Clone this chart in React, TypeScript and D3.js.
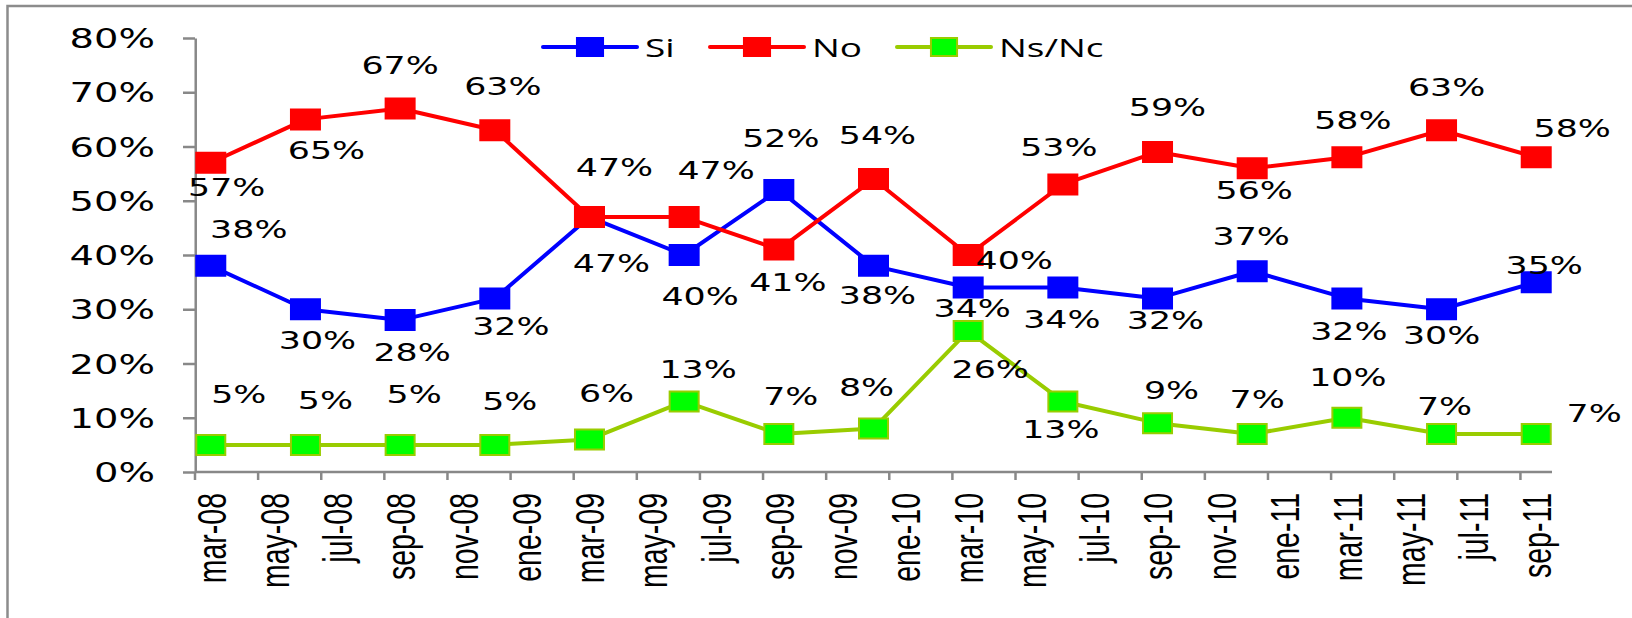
import React, { useEffect, useRef } from "react";
import * as d3 from "d3";

// quarterly survey dates and the three answer series (percent)
const surveyDates = [
  "2008-03", "2008-06", "2008-09", "2008-12",
  "2009-03", "2009-06", "2009-09", "2009-12",
  "2010-03", "2010-06", "2010-09", "2010-12",
  "2011-03", "2011-06", "2011-09",
];
const siValues = [38, 30, 28, 32, 47, 40, 52, 38, 34, 34, 32, 37, 32, 30, 35];
const noValues = [57, 65, 67, 63, 47, 47, 41, 54, 40, 53, 59, 56, 58, 63, 58];
const nsncValues = [5, 5, 5, 5, 6, 13, 7, 8, 26, 13, 9, 7, 10, 7, 7];

// axis labels, one every two months
const monthTickLabels = [
  "mar-08", "may-08", "jul-08", "sep-08", "nov-08", "ene-09",
  "mar-09", "may-09", "jul-09", "sep-09", "nov-09", "ene-10",
  "mar-10", "may-10", "jul-10", "sep-10", "nov-10", "ene-11",
  "mar-11", "may-11", "jul-11", "sep-11",
];
const yTickValues = [0, 10, 20, 30, 40, 50, 60, 70, 80];

// hand placed data labels (screen px from the marker)
const siLabelOffsets = [
  [38, -36], [12, 31], [12, 32], [16, 28], [22, 46], [16, 41], [2, -52], [4, 30],
  [4, 21], [-1, 32], [8, 22], [-1, -35], [2, 33], [0, 26], [8, -17],
];
const noLabelOffsets = [
  [16, 25], [21, 31], [0, -43], [8, -44], [25, -50], [32, -47], [9, 33], [4, -44],
  [46, 5], [-4, -37], [10, -45], [2, 22], [6, -37], [5, -43], [36, -29],
];
const nsncLabelOffsets = [
  [28, -51], [20, -45], [14, -51], [15, -44], [17, -46], [14, -32], [12, -38], [-7, -41],
  [22, 38], [-2, 28], [14, -33], [5, -35], [1, -40], [3, -28], [58, -21],
];

const WIDTH = 1632;
const HEIGHT = 618;
const SX = 1.45; // the original picture is stretched sideways

const App: React.FC = () => {
  const svgRef = useRef<SVGSVGElement>(null);

  useEffect(() => {
    if (!svgRef.current) return;
    const svg = d3.select(svgRef.current);
    svg.selectAll("*").remove();

    const vw = WIDTH / SX;
    const px = (v: number) => v / SX; // screen x -> view x

    const start = new Date(Date.UTC(2008, 2, 1));
    const monthIndex = (s: string) => {
      const [yy, mm] = s.split("-").map(Number);
      return d3.utcMonth.count(start, new Date(Date.UTC(yy, mm - 1, 1)));
    };
    const nMonths = 43;

    const x = d3.scaleLinear().domain([0, nMonths]).range([px(195), px(1552)]);
    const y = d3.scaleLinear().domain([0, 80]).range([472, 38]);

    // frame (only left and top edges are inside the picture)
    svg
      .append("rect")
      .attr("x", px(7.5))
      .attr("y", 6)
      .attr("width", vw * 2)
      .attr("height", HEIGHT * 2)
      .attr("fill", "none")
      .attr("stroke", "#8c8c8c")
      .attr("stroke-width", 2.5)
      .attr("vector-effect", "non-scaling-stroke");

    const g = svg.append("g");

    // y axis
    const yAxis = g
      .append("g")
      .attr("transform", `translate(${x(0)},0)`)
      .call(
        d3
          .axisLeft(y)
          .tickValues(yTickValues)
          .tickSize(px(12))
          .tickSizeOuter(0)
          .tickPadding(px(40) - px(12))
          .tickFormat((d) => `${d}%`)
      );
    yAxis.selectAll("path, line")
      .attr("stroke", "#888888")
      .attr("stroke-width", 2.5)
      .attr("vector-effect", "non-scaling-stroke");
    yAxis.selectAll("text")
      .attr("fill", "#000")
      .style("font-family", "'DejaVu Sans', Verdana, sans-serif")
      .style("font-size", "26.5px")
      .attr("dy", "0.36em");

    // x axis
    g.append("line")
      .attr("x1", x(0))
      .attr("x2", x(nMonths))
      .attr("y1", y(0))
      .attr("y2", y(0))
      .attr("stroke", "#888888")
      .attr("stroke-width", 2.5)
      .attr("vector-effect", "non-scaling-stroke");

    const tickMonths = monthTickLabels.map((_, i) => i * 2);
    g.selectAll(".xtick")
      .data(tickMonths)
      .enter()
      .append("line")
      .attr("x1", (d) => x(d))
      .attr("x2", (d) => x(d))
      .attr("y1", y(0))
      .attr("y2", y(0) + 8)
      .attr("stroke", "#888888")
      .attr("stroke-width", 2.5)
      .attr("vector-effect", "non-scaling-stroke");

    g.selectAll(".xlabel")
      .data(monthTickLabels)
      .enter()
      .append("text")
      .attr("transform", (_, i) => `translate(${x(i * 2 + 0.5)},${493}) rotate(-90)`)
      .attr("text-anchor", "end")
      .attr("dy", "0.36em")
      .style("font-family", "'Liberation Sans', Arial, sans-serif")
      .style("font-size", "28.5px")
      .attr("fill", "#000")
      .text((d) => d);

    const series = [
      { name: "Si", values: siValues, offsets: siLabelOffsets, line: "#0000FF", fill: "#0000FF", edge: "#0000FF" },
      { name: "No", values: noValues, offsets: noLabelOffsets, line: "#FF0000", fill: "#FF0000", edge: "#FF0000" },
      { name: "Ns/Nc", values: nsncValues, offsets: nsncLabelOffsets, line: "#99CC00", fill: "#00FF00", edge: "#99CC00" },
    ];

    const line = d3
      .line<number>()
      .x((_, i) => x(monthIndex(surveyDates[i]) + 0.5))
      .y((d) => y(d));

    const markerSize = 20;

    series.forEach((s) => {
      g.append("path")
        .datum(s.values)
        .attr("fill", "none")
        .attr("stroke", s.line)
        .attr("stroke-width", 4)
        .attr("stroke-linejoin", "round")
        .attr("vector-effect", "non-scaling-stroke")
        .attr("d", line);

      g.selectAll(null)
        .data(s.values)
        .enter()
        .append("rect")
        .attr("x", (_, i) => x(monthIndex(surveyDates[i]) + 0.5) - markerSize / 2)
        .attr("y", (d) => y(d) - markerSize / 2)
        .attr("width", markerSize)
        .attr("height", markerSize)
        .attr("fill", s.fill)
        .attr("stroke", s.edge)
        .attr("stroke-width", 2)
        .attr("vector-effect", "non-scaling-stroke");
    });

    // data labels on top of everything
    series.forEach((s) => {
      g.selectAll(null)
        .data(s.values)
        .enter()
        .append("text")
        .attr("x", (_, i) => x(monthIndex(surveyDates[i]) + 0.5) + px(s.offsets[i][0]))
        .attr("y", (d, i) => y(d) + s.offsets[i][1])
        .attr("text-anchor", "middle")
        .attr("dy", "0.36em")
        .style("font-family", "'DejaVu Sans', Verdana, sans-serif")
        .style("font-size", "24px")
        .attr("fill", "#000")
        .text((d) => `${d}%`);
    });

    // legend
    const legendX = [543, 710, 897];
    const legend = g.append("g");
    series.forEach((s, i) => {
      const lx = legendX[i];
      legend
        .append("line")
        .attr("x1", px(lx))
        .attr("x2", px(lx + 94))
        .attr("y1", 47)
        .attr("y2", 47)
        .attr("stroke", s.line)
        .attr("stroke-width", 4)
        .attr("stroke-linecap", "round")
        .attr("vector-effect", "non-scaling-stroke");
      legend
        .append("rect")
        .attr("x", px(lx + 47) - 9)
        .attr("y", 47 - 9)
        .attr("width", 18)
        .attr("height", 18)
        .attr("fill", s.fill)
        .attr("stroke", s.edge)
        .attr("stroke-width", 2)
        .attr("vector-effect", "non-scaling-stroke");
      legend
        .append("text")
        .attr("x", px(lx + 102))
        .attr("y", 57)
        .style("font-family", "'Open Sans', sans-serif")
        .style("font-size", "25.5px")
        .attr("fill", "#000")
        .text(s.name);
    });
  }, []);

  return (
    <svg
      ref={svgRef}
      width={WIDTH}
      height={HEIGHT}
      viewBox={`0 0 ${WIDTH / SX} ${HEIGHT}`}
      preserveAspectRatio="none"
      style={{ position: "absolute", left: 0, top: 0, display: "block", background: "#fff" }}
    />
  );
};

export default App;
